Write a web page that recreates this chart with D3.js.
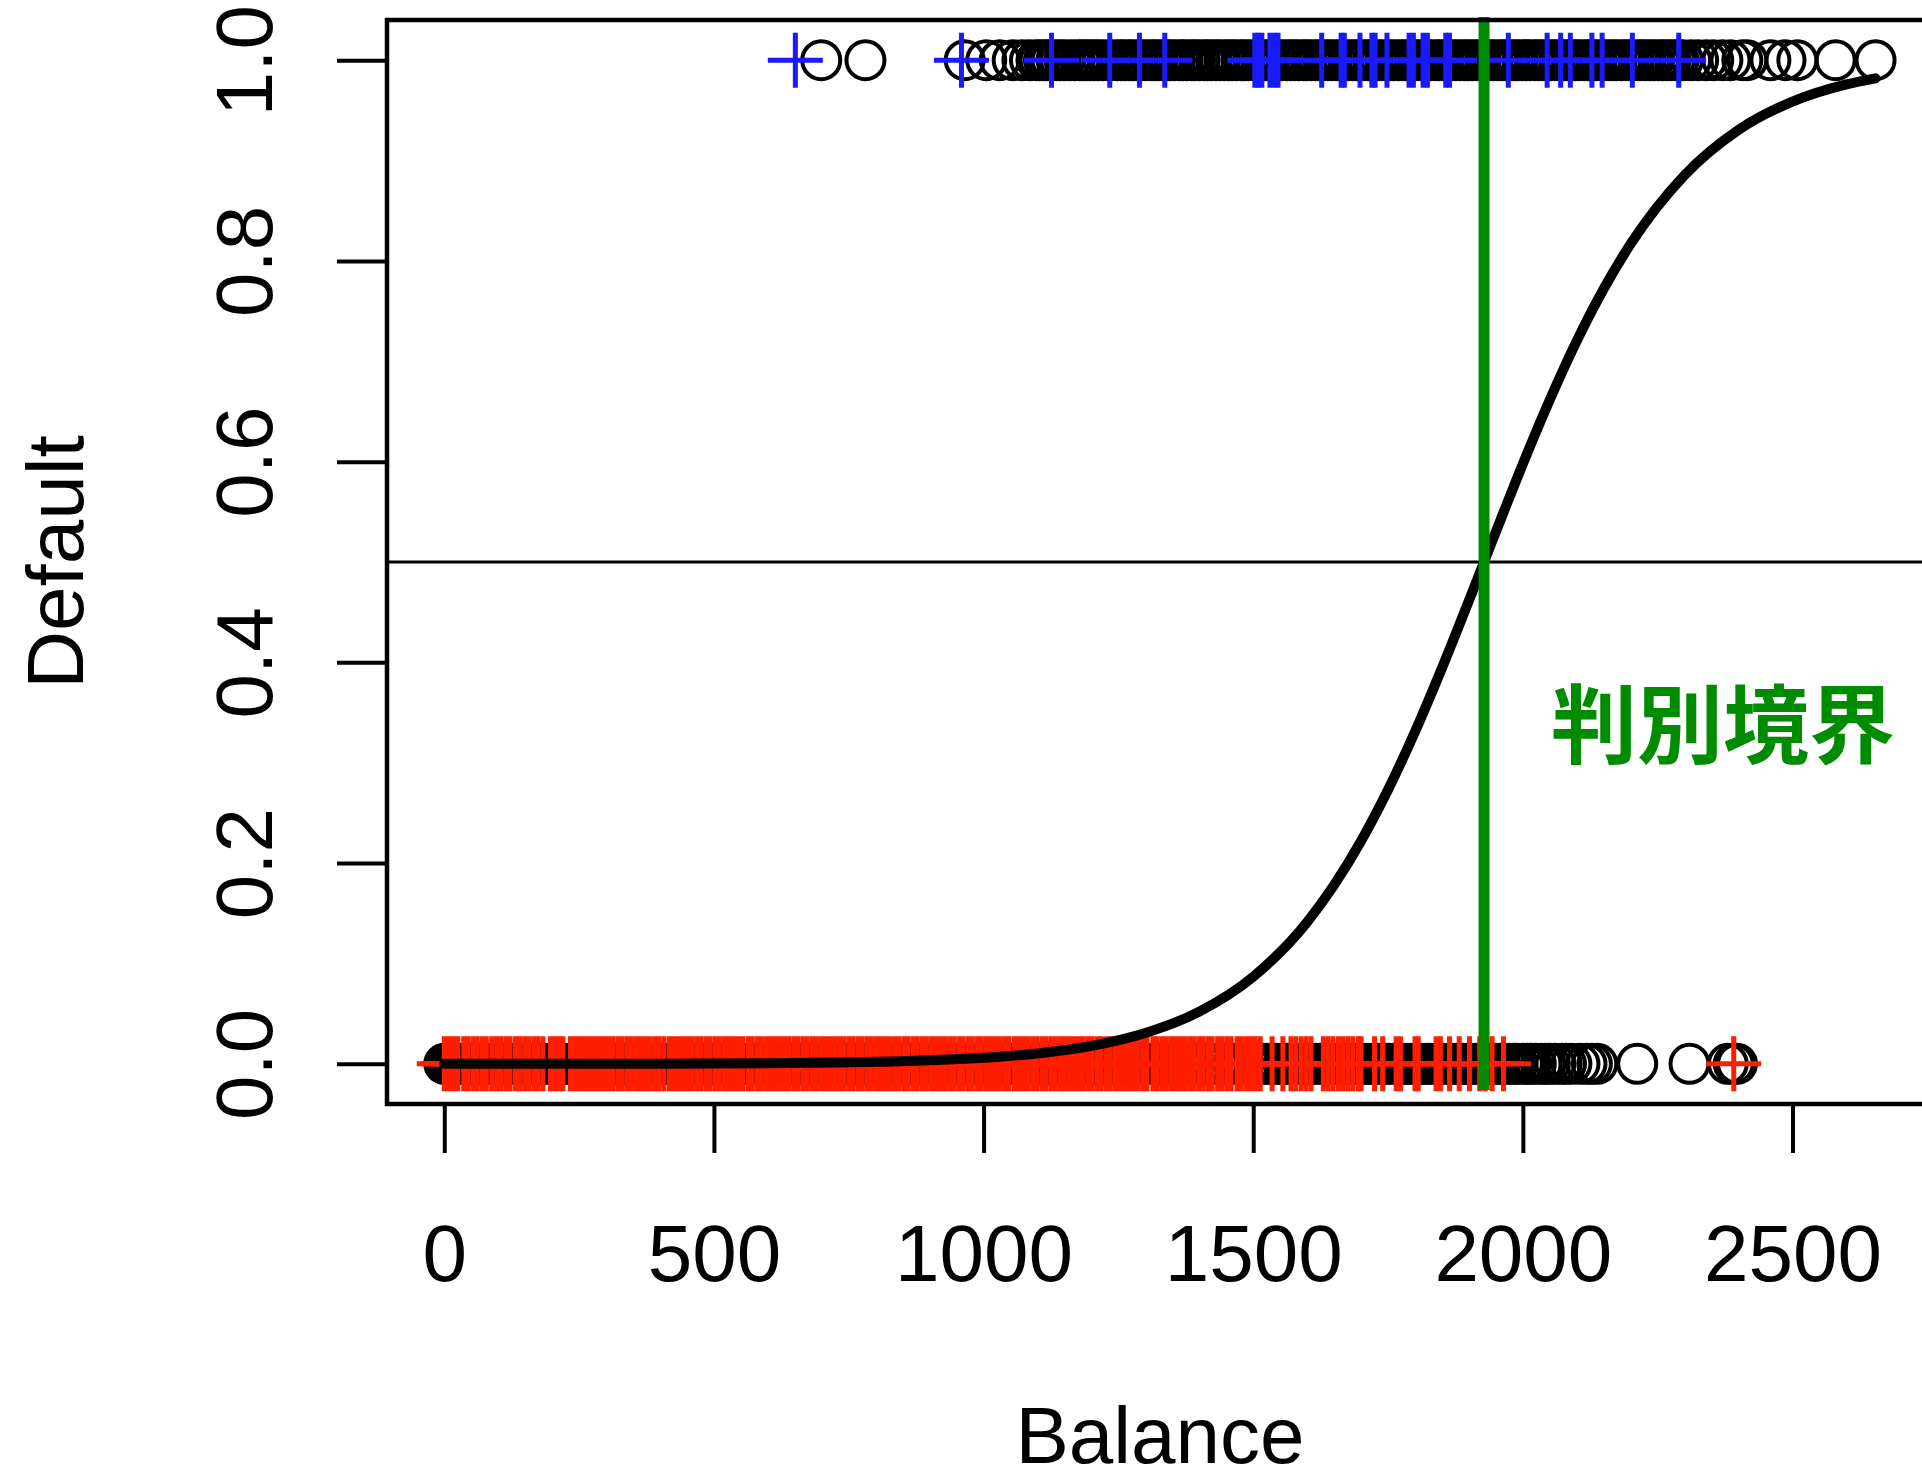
<!DOCTYPE html>
<html>
<head>
<meta charset="utf-8">
<script src="https://cdn.jsdelivr.net/npm/d3@7"></script>
<style>
  body { margin: 0; background: #fff; }
  svg text { font-family: "Liberation Sans", Arial, Helvetica, sans-serif; }
</style>
</head>
<body>
<div id="chart"></div>
<script>
var svgWidth = 1922;
var svgHeight = 1481;

// plot region (R style: box with 4% padding around the data range)
var box = {left: 387, top: 20, right: 1933, bottom: 1104};

// Balance values of all observations, black circles (Default = No / Yes)
var circlesNo = [0, 3, 7, 12, 17, 23, 29, 36, 44, 52, 61, 69, 78, 88, 96, 105, 115, 124, 132, 141,
  151, 159, 168, 178, 186, 195, 205, 213, 222, 232, 241, 249, 259, 268, 276, 287, 295, 306, 318, 327,
  336, 349, 358, 367, 379, 388, 397, 408, 416, 427, 437, 446, 455, 466, 474, 485, 496, 504, 513, 525,
  534, 543, 554, 562, 573, 584, 592, 601, 613, 622, 631, 642, 650, 661, 672, 680, 689, 701, 710, 719,
  730, 738, 749, 760, 768, 777, 789, 798, 807, 818, 826, 837, 848, 856, 865, 877, 886, 895, 906, 914,
  925, 936, 944, 953, 965, 974, 983, 994, 1002, 1013, 1024, 1032, 1041, 1053, 1062, 1071, 1082, 1090,
  1101, 1112, 1120, 1129, 1141, 1150, 1159, 1170, 1178, 1189, 1200, 1208, 1217, 1229, 1238, 1247,
  1258, 1266, 1277, 1288, 1296, 1305, 1317, 1326, 1335, 1346, 1354, 1365, 1376, 1384, 1393, 1405,
  1414, 1423, 1434, 1442, 1453, 1464, 1472, 1481, 1493, 1502, 1510, 1518, 1525, 1533, 1541, 1547,
  1556, 1563, 1571, 1579, 1586, 1594, 1600, 1609, 1616, 1624, 1633, 1639, 1647, 1655, 1662, 1670,
  1676, 1685, 1692, 1700, 1709, 1715, 1723, 1731, 1738, 1746, 1752, 1761, 1768, 1776, 1785, 1791,
  1799, 1807, 1814, 1822, 1828, 1837, 1844, 1852, 1861, 1867, 1875, 1883, 1890, 1898, 1904, 1913,
  1920, 1928, 1937, 1943, 1951, 1958, 1966, 1975, 1983, 1990, 2000, 2008, 2015, 2024, 2035, 2042,
  2050, 2060, 2072, 2080, 2090, 2105, 2118, 2128, 2138, 2212, 2309, 2380, 2391, 2397];

var circlesYes = [699, 781, 965, 1005, 1030, 1054, 1072, 1086, 1098, 1104, 1112, 1118, 1126, 1135,
  1142, 1150, 1160, 1169, 1178, 1184, 1190, 1198, 1205, 1212, 1221, 1230, 1238, 1248, 1255, 1262,
  1270, 1277, 1286, 1293, 1300, 1309, 1316, 1323, 1332,
  1339, 1346, 1354, 1363, 1369, 1377, 1386, 1392, 1400, 1409, 1415, 1423, 1431, 1438, 1447, 1454,
  1461, 1469, 1478, 1484, 1492, 1501, 1507, 1515, 1523, 1530, 1539, 1546, 1553, 1562, 1569, 1576,
  1584, 1593, 1599, 1607, 1616, 1622, 1630, 1638, 1645, 1654, 1661, 1668, 1677, 1684, 1691, 1699,
  1708, 1714, 1722, 1730, 1737, 1746, 1753, 1760, 1769, 1776, 1783, 1791, 1800, 1806, 1814, 1822,
  1829, 1838, 1845, 1852, 1861, 1868, 1875, 1883, 1892, 1898, 1906, 1914, 1921, 1930, 1937, 1944,
  1952, 1961, 1967, 1975, 1983, 1990, 1999, 2006, 2013, 2022, 2029, 2036, 2044, 2053, 2059, 2067,
  2075, 2082, 2091, 2098, 2105, 2114, 2121, 2128, 2136, 2145, 2151, 2159, 2167, 2174, 2183, 2190,
  2197, 2205, 2214, 2220, 2228, 2236, 2243, 2252, 2259, 2266, 2274, 2282, 2289, 2297, 2312, 2325,
  2340, 2353, 2370, 2385, 2407, 2416, 2459, 2487, 2509, 2580, 2654];

// Test observations, crosses: red = No (y = 0), blue = Yes (y = 1)
var crossesNo = [0, 8, 17, 25, 36, 44, 53, 61, 70, 78, 88, 97, 105, 114, 122, 132, 140, 149, 157,
  166, 174, 183, 197, 205, 213, 220, 234, 242, 250, 258, 266, 274, 282, 290, 298, 305, 313, 322, 330,
  339, 347, 356, 364, 373, 381, 390, 398, 407, 417, 425, 434, 442, 451, 459, 468, 476, 485, 493, 502,
  510, 519, 527, 536, 544, 553, 563, 571, 580, 588, 597, 605, 614, 622, 631, 639, 648, 656, 665, 673,
  682, 690, 699, 707, 716, 724, 733, 741, 750, 758, 767, 775, 784, 792, 801, 809, 818, 826, 835, 843,
  852, 860, 869, 877, 886, 894, 903, 911, 920, 928, 937, 945, 954, 962, 971, 979, 988, 996, 1005,
  1013, 1022, 1030, 1039, 1047, 1057, 1065, 1074, 1082, 1091, 1099, 1108, 1116, 1125, 1133, 1142,
  1150, 1159, 1167, 1176, 1184, 1193, 1201, 1210, 1218, 1227, 1235, 1244, 1252, 1261, 1269, 1278,
  1286, 1295, 1303, 1314, 1322, 1331, 1339, 1348, 1356, 1365, 1373, 1382, 1390, 1399, 1407, 1416,
  1424, 1434, 1442, 1451, 1459, 1470, 1478, 1487, 1495, 1504, 1513,
  1535, 1555, 1570, 1579, 1589, 1598, 1607, 1630, 1639, 1648, 1658, 1667, 1676, 1685, 1695, 1700,
  1725, 1740, 1765, 1773, 1800, 1806, 1839, 1847, 1864, 1882, 1901, 1920, 1930, 1943, 1964, 2391];

var crossesYes = [651, 959, 1126, 1234, 1289, 1336, 1503, 1509, 1516, 1531, 1539, 1546, 1627, 1663,
  1669, 1698, 1720, 1726, 1748, 1789, 1797, 1815, 1823, 1857, 1864, 1973, 2045, 2070, 2088, 2128,
  2147, 2203, 2289];

// fitted probability curve
var curveBalance = [0, 200, 400, 600, 800, 1000, 1100, 1200, 1300, 1400, 1500, 1600, 1650, 1700,
  1750, 1800, 1850, 1900, 1950, 2000, 2050, 2100, 2150, 2200, 2300, 2400, 2500, 2600, 2654];
var curveProb = [0.0000, 0.0001, 0.0002, 0.0007, 0.0020, 0.0060, 0.0104, 0.0179, 0.0307, 0.0520,
  0.0868, 0.1413, 0.1782, 0.2221, 0.2731, 0.3309, 0.3944, 0.4616, 0.5302, 0.5978, 0.6617, 0.7203,
  0.7722, 0.8170, 0.8855, 0.9306, 0.9587, 0.9758, 0.9819];

var threshold = 0.5;
var boundary = 1928;
var boundaryLabel = "判別境界";

var xTicks = [0, 500, 1000, 1500, 2000, 2500];
var yTicks = [0, 0.2, 0.4, 0.6, 0.8, 1.0];

var svg = d3.select("#chart")
  .append("svg")
  .attr("width", svgWidth)
  .attr("height", svgHeight)
  .style("background", "#fff");

var x = d3.scaleLinear()
  .domain([-106.2, 2760.5])
  .range([box.left, box.right]);

var y = d3.scaleLinear()
  .domain([-0.04, 1.04])
  .range([box.bottom, box.top]);

// black circles
var circleGroup = svg.append("g")
  .attr("fill", "none")
  .attr("stroke", "#000")
  .attr("stroke-width", 4);

circleGroup.selectAll(".no")
  .data(circlesNo)
  .enter()
  .append("circle")
  .attr("cx", d => x(d))
  .attr("cy", y(0))
  .attr("r", 19);

circleGroup.selectAll(".yes")
  .data(circlesYes)
  .enter()
  .append("circle")
  .attr("cx", d => x(d))
  .attr("cy", y(1))
  .attr("r", 19);

// crosses
var cross = "M-27.5,0H27.5M0,-27.5V27.5";

svg.append("g")
  .selectAll("path")
  .data(crossesNo)
  .enter()
  .append("path")
  .attr("d", cross)
  .attr("transform", d => `translate(${x(d)},${y(0)})`)
  .attr("stroke", "#ff1e00")
  .attr("stroke-width", 5)
  .attr("fill", "none");

svg.append("g")
  .selectAll("path")
  .data(crossesYes)
  .enter()
  .append("path")
  .attr("d", cross)
  .attr("transform", d => `translate(${x(d)},${y(1)})`)
  .attr("stroke", "#1a1aff")
  .attr("stroke-width", 5)
  .attr("fill", "none");

// logistic curve
var line = d3.line()
  .x(d => x(d[0]))
  .y(d => y(d[1]))
  .curve(d3.curveMonotoneX);

svg.append("path")
  .datum(d3.zip(curveBalance, curveProb))
  .attr("d", line)
  .attr("fill", "none")
  .attr("stroke", "#000")
  .attr("stroke-width", 10)
  .attr("stroke-linecap", "round");

// threshold line
svg.append("line")
  .attr("x1", box.left)
  .attr("x2", box.right)
  .attr("y1", y(threshold))
  .attr("y2", y(threshold))
  .attr("stroke", "#000")
  .attr("stroke-width", 3);

// decision boundary
svg.append("line")
  .attr("x1", x(boundary))
  .attr("x2", x(boundary))
  .attr("y1", y(1.043))
  .attr("y2", y(-0.026))
  .attr("stroke", "#008b00")
  .attr("stroke-width", 11);

svg.append("text")
  .attr("x", 1551)
  .attr("y", 757)
  .attr("fill", "#008b00")
  .style("font-family", "'Noto Sans CJK JP', 'Noto Sans CJK SC', sans-serif")
  .style("font-weight", 700)
  .style("font-size", "86px")
  .text(boundaryLabel);

// box
svg.append("rect")
  .attr("x", box.left)
  .attr("y", box.top)
  .attr("width", box.right - box.left)
  .attr("height", box.bottom - box.top)
  .attr("fill", "none")
  .attr("stroke", "#000")
  .attr("stroke-width", 4.5);

// axes
var bottomAxis = d3.axisBottom(x)
  .tickValues(xTicks)
  .tickFormat(d3.format("d"))
  .tickSize(49)
  .tickSizeOuter(0);

var xAxis = svg.append("g")
  .attr("transform", `translate(0, ${box.bottom})`)
  .call(bottomAxis);
xAxis.select(".domain").remove();
xAxis.selectAll("line").attr("stroke-width", 4);
xAxis.selectAll("text")
  .attr("y", 177)
  .attr("dy", 0)
  .attr("fill", "#000")
  .style("font-size", "80px")
  .style("font-family", "'Liberation Sans', Arial, sans-serif");

var leftAxis = d3.axisLeft(y)
  .tickValues(yTicks)
  .tickFormat(d3.format(".1f"))
  .tickSize(50)
  .tickSizeOuter(0);

var yAxis = svg.append("g")
  .attr("transform", `translate(${box.left}, 0)`)
  .call(leftAxis);
yAxis.select(".domain").remove();
yAxis.selectAll("line").attr("stroke-width", 4);
yAxis.selectAll("text")
  .attr("x", 0)
  .attr("dy", 0)
  .attr("transform", "translate(-115,0) rotate(-90)")
  .attr("text-anchor", "middle")
  .attr("fill", "#000")
  .style("font-size", "80px")
  .style("font-family", "'Liberation Sans', Arial, sans-serif");

// axis titles
svg.append("text")
  .attr("x", (box.left + box.right) / 2)
  .attr("y", 1463)
  .attr("text-anchor", "middle")
  .style("font-size", "80px")
  .text("Balance");

svg.append("text")
  .attr("transform", `translate(83, ${(y(0) + y(1)) / 2}) rotate(-90)`)
  .attr("text-anchor", "middle")
  .style("font-size", "80px")
  .text("Default");
</script>
</body>
</html>
